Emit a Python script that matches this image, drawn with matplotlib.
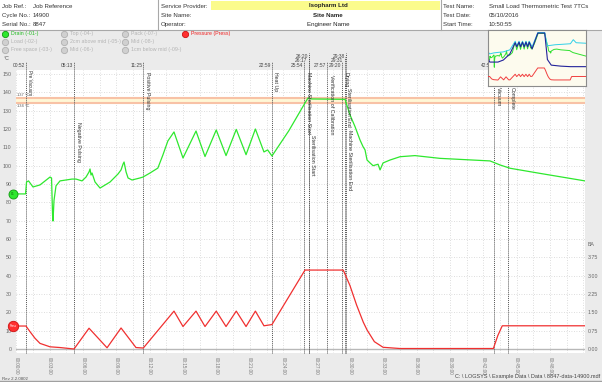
import matplotlib
matplotlib.use("Agg")
import matplotlib.pyplot as plt
from matplotlib.lines import Line2D
from matplotlib.patches import Rectangle
import numpy as np

plt.rcParams['font.family'] = ['Liberation Sans', 'DejaVu Sans']

W, H = 602, 382


def fx(x):
    return x / W


def fy(y):
    return 1 - y / H


# header fields
job_keys = ["Job Ref.:", "Cycle No.:", "Serial No.:"]
job_vals = ["Job Reference", "14900", "8847"]
site_keys = ["Service Provider:", "Site Name:", "Operator:"]
site_vals = ["Isopharm Ltd", "Site Name", "Engineer Name"]
test_keys = ["Test Name:", "Test Date:", "Start Time:"]
test_vals = ["Small Load Thermometric Test 7TCs", "05/10/2016", "10:50:55"]

# channel legend (only Drain and Pressure are switched on)
legend_cols = [["Drain (-01-)", "Load (-02-)", "Free space (-03-)"],
               ["Top (-04-)", "2cm above mid (-05-)", "Mid (-06-)"],
               ["Pack (-07-)", "Mid (-08-)", "1cm below mid (-09-)"],
               ["Pressure (Press)"]]

# drain temperature, time in minutes, degC
drain_t = [0, 0.83, 0.92, 1.10, 1.50, 2.13, 3.03, 3.17, 3.26, 3.30, 3.39, 3.57, 3.93, 4.47,
           5.01, 5.37, 5.91, 6.27, 6.54, 6.63, 6.72, 6.81, 7.08, 7.53, 8.43, 9.15, 9.42, 9.60,
           9.69, 9.87, 10.05, 10.41, 11.12, 11.39, 12.02, 12.73, 13.18, 13.63, 14.18, 14.99,
           16.16, 16.97, 17.98, 18.86, 19.78, 20.66, 21.50, 22.27, 22.60, 22.99, 24.50, 25.96,
           26.23, 26.56, 29.56, 30.01, 30.46, 30.91, 31.18, 31.36, 31.54, 31.81, 32.08, 32.53,
           32.71, 32.98, 33.61, 34.51, 35.85, 37.20, 38.10, 42.60, 43.50, 44.40, 47.10, 51.14]
drain_v = [84.6, 84.6, 91.1, 91.7, 88.4, 89.5, 93.8, 93.3, 73.0, 69.8, 81.0, 89.0, 91.7, 92.2,
           92.7, 92.7, 91.7, 93.8, 96.6, 98.2, 94.9, 96.0, 91.1, 87.8, 91.1, 95.5, 97.7, 100.9,
           102.0, 96.6, 93.3, 92.2, 93.3, 93.8, 96.0, 98.7, 105.8, 113.5, 118.4, 104.2,
           118.9, 105.0, 119.5, 105.5, 119.8, 106.0, 120.0, 107.5, 108.6, 105.3, 119.0, 134.2,
           136.9, 136.4, 136.2, 127.7, 121.3, 114.0, 110.4, 108.6, 103.1, 101.5, 100.0, 100.8,
           97.7, 101.5, 103.1, 104.9, 105.5, 104.6, 104.0, 102.6, 100.4, 98.6, 95.8, 91.7]

# chamber pressure, bar
press_t = [0, 0.87, 1.23, 1.68, 2.13, 3.03, 3.93, 5.19, 6.54, 8.16, 9.42, 10.76, 11.42, 14.18,
           14.99, 16.16, 16.97, 17.98, 18.86, 19.78, 20.66, 21.50, 22.27, 22.99, 25.96, 29.40,
           30.00, 30.60, 31.20, 31.54, 32.20, 32.98, 34.50, 42.90, 43.30, 43.70, 51.14]
press_v = [0.94, 0.94, 0.71, 0.44, 0.23, 0.09, 0.06, 0.0, 0.85, 0.05, 0.86, 0.06, 0.04, 1.55,
           0.92, 1.55, 0.92, 1.55, 0.92, 1.55, 0.92, 1.55, 0.95, 1.0, 3.23, 3.23,
           2.6, 1.8, 1.1, 0.78, 0.3, 0.07, 0.02, 0.02, 0.55, 0.95, 0.95]

# other channels, only visible in the overview thumbnail
thumb_top_t = [0, 0.9, 3.0, 5.2, 8.0, 11.4, 14.2, 15.0, 16.2, 17.0, 18.0, 18.9, 19.8, 20.7,
               21.5, 23.0, 26.0, 29.6, 31.0, 33.0, 38.0, 43.0, 51.1]
thumb_top_v = [88, 80, 80, 80, 84, 96, 118, 110, 119, 110, 119, 110, 119, 110,
               119, 106, 137, 137, 85, 74, 72, 71, 71]
thumb_pack_t = [0, 0.9, 3.0, 5.2, 8.0, 11.4, 14.2, 15.0, 16.2, 17.0, 18.0, 18.9, 19.8, 20.7,
                21.5, 23.0, 26.0, 29.6, 31.0, 35.0, 43.0, 44.5, 46.0, 51.1]
thumb_pack_v = [100, 96, 98, 99, 100, 104, 121, 112, 121, 112, 121, 112, 121, 112,
                121, 110, 138, 138, 112, 114, 116, 124, 118, 117]

# cycle events
event_times = ["00:52", "05:13", "11:25", "22:59", "25:54", "26:17", "26:20", "27:57",
               "29:20", "29:31", "29:38", "42:59", "44:13"]
event_names = ["Pre Vacuum", "Negative Pulsing", "Positive Pulsing", "Heat Up",
               "Machine Sterilisation Start", "Sterilisation Start", "",
               "Verification of Calibration", "Drying", "Sterilisation End",
               "Machine Sterilisation End", "Vacuum", "Complete"]
# layout of the event labels (pixel row of the label top, stacking row of the time)
event_label_top = [70, 122, 72, 72, 72, 135, 72, 75, 72, 88, 130, 87, 87]
event_time_row = [0, 0, 0, 0, 0, 1, 2, 0, 0, 1, 2, 0, 0]

band_hi, band_lo = 137, 134

fig = plt.figure(figsize=(W / 100, H / 100), dpi=100, facecolor='#ebebeb')

# ---- header
fig.add_artist(Rectangle((0, fy(29.5)), 1, 29.5 / H, transform=fig.transFigure,
                         facecolor='white', edgecolor='none'))
fig.add_artist(Rectangle((fx(211), fy(10)), (440 - 211) / W, 9 / H, transform=fig.transFigure,
                         facecolor='#fbfb8c', edgecolor='none'))
for xs in [158, 441]:
    fig.add_artist(Line2D([fx(xs), fx(xs)], [fy(0), fy(29.5)], color='#a8a8a8', lw=0.8))
fig.add_artist(Line2D([0, 1], [fy(29.5), fy(29.5)], color='#a8a8a8', lw=0.8))

rows = [6, 15.5, 24.5]
hs = 4.4
for i in range(3):
    fig.text(fx(2), fy(rows[i]), job_keys[i], fontsize=hs, color='#333', va='center')
    fig.text(fx(33), fy(rows[i]), job_vals[i], fontsize=hs, color='#333', va='center')
    fig.text(fx(161), fy(rows[i]), site_keys[i], fontsize=hs, color='#333', va='center')
    fig.text(fx(328), fy(rows[i]), site_vals[i], fontsize=hs, color='#222', va='center',
             ha='center', fontweight='bold' if i < 2 else 'normal')
    fig.text(fx(443), fy(rows[i]), test_keys[i], fontsize=hs, color='#333', va='center')
    fig.text(fx(489), fy(rows[i]), test_vals[i], fontsize=hs, color='#333', va='center')

# ---- legend
col_x = [5, 64, 125, 185]
leg_y = [34, 42, 50]
for c, names in enumerate(legend_cols):
    for r, name in enumerate(names):
        if name.startswith("Drain"):
            fc, ec, tc = '#2ee82e', '#119911', '#22bb22'
        elif name.startswith("Pressure"):
            fc, ec, tc = '#ff3030', '#cc1010', '#ee2020'
        else:
            fc, ec, tc = '#d0d0d0', '#b0b0b0', '#b4b4b4'
        fig.add_artist(Line2D([fx(col_x[c])], [fy(leg_y[r])], marker='o', ms=4.5, mfc=fc,
                              mec=ec, mew=0.6, transform=fig.transFigure))
        fig.text(fx(col_x[c] + 6), fy(leg_y[r]), name, fontsize=3.8, color=tc, va='center')

fig.text(fx(4), fy(59), "°C", fontsize=3.8, color='#555', va='center')

# ---- main chart
ax = fig.add_axes([fx(16.3), fy(353), (585 - 16.3) / W, (353 - 70) / H], facecolor='white')
ax.set_xlim(0, 51.14)
ax.set_ylim(-2.18, 152.2)
ax.set_xticks(np.arange(0, 49, 3))
ax.set_xticklabels([f"00:{m:02d}:00" for m in range(0, 49, 3)], rotation=-90,
                   fontsize=3.3, color='#7a7a7a')
ax.set_xticks(np.arange(0, 51.2, 1.5), minor=True)
ax.tick_params(axis='x', which='both', length=0, pad=3)
ax.set_yticks(np.arange(0, 151, 10))
ax.tick_params(axis='y', length=0, pad=3.5, labelsize=3.8, labelcolor='#666')
ax.grid(True, which='both', axis='x', color='#d2d2d2', lw=0.6, ls=(0, (1, 2)))
ax.grid(True, which='major', axis='y', color='#d2d2d2', lw=0.6, ls=(0, (1, 2)))
ax.set_axisbelow(True)
for s in ax.spines.values():
    s.set_visible(False)

ax.axhspan(band_lo, band_hi, color='#fff7d6', lw=0, zorder=1)
ax.axhline(band_hi, color='#f8c2a6', lw=1.5, zorder=1.5)
ax.axhline(band_lo, color='#f8c2a6', lw=1.5, zorder=1.5)
ax.text(0.03, 138.4, f"{band_hi} °C", fontsize=2.9, color='#555', va='center')
ax.text(0.03, 132.5, f"{band_lo} °C", fontsize=2.9, color='#555', va='center')
ax.axhline(0, color='#b8b8b8', lw=1, zorder=1.5)

time_row_y = [65.5, 61, 56.5]
for tm, name, top, row in zip(event_times, event_names, event_label_top, event_time_row):
    mm, ss = tm.split(":")
    t = int(mm) + int(ss) / 60
    ty = time_row_y[row]
    ax.axvline(t, ymin=0, ymax=(353 - (ty - 3.5)) / 283, color='#555', lw=0.7,
               ls=(0, (1, 1)), clip_on=False, zorder=3)
    ax.annotate(tm, xy=(t, fy(ty)), xycoords=('data', 'figure fraction'), xytext=(-0.8, 0),
                textcoords='offset points', ha='right', va='center', fontsize=3.5,
                color='#444', annotation_clip=False)
    if name:
        fs = 3.3 if name == "Pre Vacuum" else 3.8
        ax.annotate(name, xy=(t, fy(top)), xycoords=('data', 'figure fraction'),
                    xytext=(1.0, 0), textcoords='offset points', rotation=-90, ha='left',
                    va='top', fontsize=fs, color='#333', annotation_clip=False, zorder=5)

ax.plot(drain_t, drain_v, color='#2ee82e', lw=0.9, zorder=4)

ax2 = ax.twinx()
ax2.set_ylim(-2.18 / 13.333, 152.2 / 13.333)
pt = np.arange(0, 3.76, 0.75)
ax2.set_yticks(pt)
ax2.set_yticklabels([f"{v:.2f}" for v in pt])
ax2.tick_params(axis='y', length=0, pad=2, labelsize=3.8, labelcolor='#666')
for s in ax2.spines.values():
    s.set_visible(False)
ax2.plot(press_t, press_v, color='#f03030', lw=0.9, zorder=4)
fig.text(fx(588), fy(245), "BA", fontsize=3.8, color='#666', va='center')

# channel start markers at the left edge
fig.add_artist(Line2D([fx(13)], [fy(194)], marker='o', ms=6.5, mfc='#2ee82e', mec='#119911',
                      mew=0.6, transform=fig.transFigure))
fig.text(fx(13), fy(194), "01", fontsize=2.4, color='#0a600a', ha='center', va='center')
fig.add_artist(Line2D([fx(13)], [fy(326)], marker='o', ms=7.5, mfc='#ff3030', mec='#cc1010',
                      mew=0.6, transform=fig.transFigure))
fig.text(fx(13), fy(326), "Press", fontsize=2, color='white', ha='center', va='center')

# ---- overview thumbnail
axi = fig.add_axes([fx(488), fy(86), 98 / W, 56 / H], facecolor='#fdfbee', zorder=10)
axi.plot(drain_t, drain_v, color='#30e030', lw=0.7)
axi.plot(thumb_pack_t, thumb_pack_v, color='#30d0e8', lw=0.7)
axi.plot(thumb_top_t, thumb_top_v, color='#23239a', lw=0.8)
axi.set_xlim(0, 51.14)
axi.set_ylim(33, 143)
axi.set_xticks([])
axi.set_yticks([])
for s in axi.spines.values():
    s.set_color('#8c8c8c')
    s.set_linewidth(0.8)
axi2 = axi.twinx()
axi2.set_zorder(11)
axi2.plot(press_t, press_v, color='#f04040', lw=0.7)
axi2.set_ylim(-1.6, 13.4)
axi2.set_yticks([])
axi2.axis('off')

# ---- footer
fig.text(fx(2), fy(378.5), "Rev 2.2.0802", fontsize=3.2, color='#555', va='center')
fig.text(fx(600), fy(376.5), r"C: \ LOGSYS \ Example Data \ Data \ 8847-data-14900.mdf",
         ha='right', va='center', fontsize=4, color='#444')
fig.add_artist(Line2D([0, 1], [fy(381), fy(381)], color='#a0a0a0', lw=1))

fig.savefig("out.png", dpi=100, facecolor=fig.get_facecolor())
